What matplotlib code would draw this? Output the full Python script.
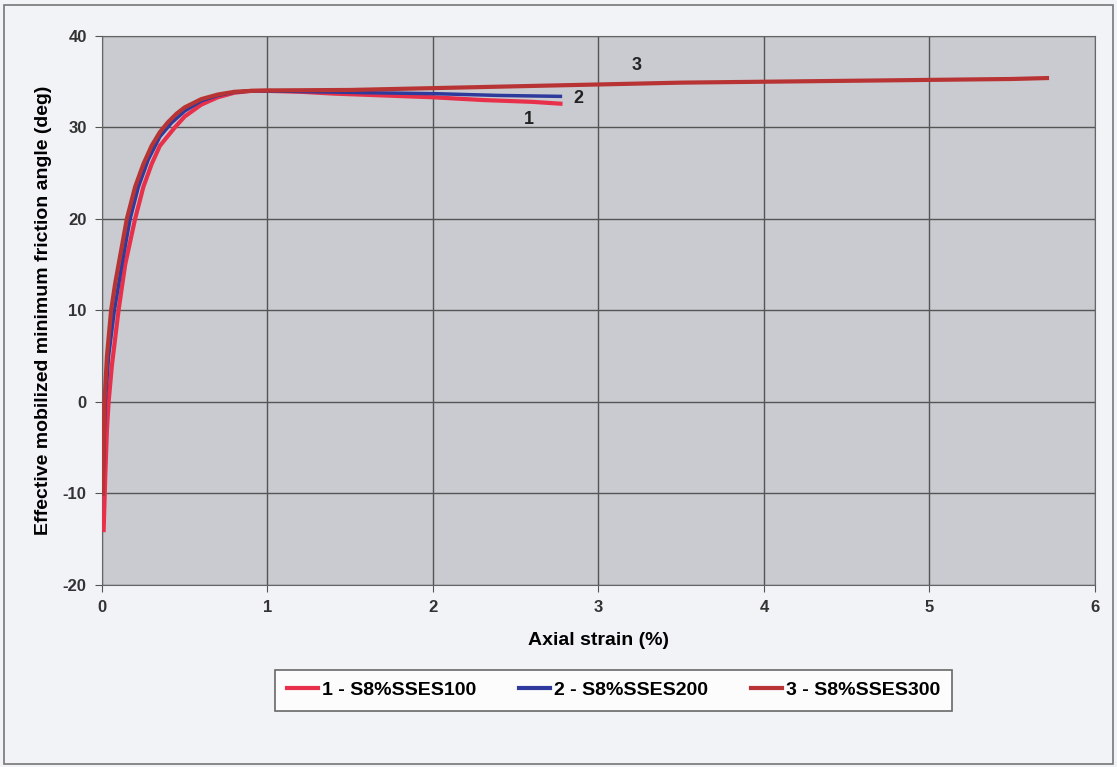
import matplotlib.pyplot as plt
from matplotlib.patches import Rectangle

plt.rcParams['font.family'] = ['Liberation Sans', 'DejaVu Sans']
plt.rcParams['axes.unicode_minus'] = False

# Data
strain_1 = [0.01, 0.02, 0.03, 0.04, 0.06, 0.1, 0.14, 0.2, 0.25, 0.3, 0.35, 0.44, 0.5, 0.6, 0.7, 0.8, 0.9, 1.0,
            1.2, 1.4, 1.7, 2.0, 2.3, 2.6, 2.77]
phi_1 = [-14, -8, -3, 0, 4, 10, 15, 20, 23.5, 26, 28, 30, 31.2, 32.5, 33.3, 33.8, 34.0, 34.0,
         33.9, 33.7, 33.5, 33.3, 33.0, 32.8, 32.6]

strain_2 = [0.005, 0.012, 0.02, 0.04, 0.075, 0.12, 0.17, 0.22, 0.28, 0.35, 0.42, 0.5, 0.6, 0.7, 0.8, 0.9, 1.0,
            1.3, 1.6, 2.0, 2.4, 2.77]
phi_2 = [-10, -5, 0, 5, 10, 15, 20, 23.5, 26.5, 29, 30.5, 31.8, 32.9, 33.5, 33.85, 34.0, 34.0,
         33.9, 33.8, 33.7, 33.5, 33.4]

strain_3 = [0.005, 0.01, 0.015, 0.03, 0.055, 0.08, 0.11, 0.15, 0.2, 0.25, 0.3, 0.35, 0.4, 0.45, 0.5, 0.6, 0.7,
            0.8, 0.9, 1.0, 1.5, 2.0, 2.5, 3.0, 3.5, 4.0, 4.5, 5.0, 5.5, 5.71]
phi_3 = [-10, -5, 0, 5, 10, 13, 16, 20, 23.5, 26, 28, 29.5, 30.6, 31.5, 32.2, 33.1, 33.6,
         33.9, 34.0, 34.05, 34.1, 34.3, 34.5, 34.7, 34.9, 35.0, 35.1, 35.2, 35.3, 35.4]

labels = ['1 - S8%SSES100', '2 - S8%SSES200', '3 - S8%SSES300']
colors = ['#e8304a', '#2e3a9c', '#b83434']

fig = plt.figure(figsize=(11.17, 7.67), dpi=100, facecolor='#f2f3f7')
ax = fig.add_axes([0.0913, 0.2373, 0.8890, 0.7158])
ax.set_facecolor('#c9cbd0')

ax.plot(strain_1, phi_1, color=colors[0], lw=3, label=labels[0], zorder=3)
ax.plot(strain_2, phi_2, color=colors[1], lw=2.5, label=labels[1], zorder=4)
ax.plot(strain_3, phi_3, color=colors[2], lw=3, label=labels[2], zorder=5)

# curve numbers
ax.text(2.58, 30.9, '1', fontsize=13, fontweight='bold', ha='center', va='center', color='#222222')
ax.text(2.88, 33.2, '2', fontsize=13, fontweight='bold', ha='center', va='center', color='#222222')
ax.text(3.23, 36.8, '3', fontsize=13, fontweight='bold', ha='center', va='center', color='#222222')

ax.set_xlim(0, 6)
ax.set_ylim(-20, 40)
ax.set_xticks(range(0, 7))
ax.set_yticks(range(-20, 41, 10))
ax.grid(True, color='#555555', lw=1)
ax.set_axisbelow(True)
for s in ax.spines.values():
    s.set_color('#666666')
ax.tick_params(labelsize=12, length=5, color='#555555', pad=6, labelcolor='#333333')
for lab in ax.get_xticklabels() + ax.get_yticklabels():
    lab.set_fontweight('bold')

ax.set_xlabel('Axial strain (%)', fontsize=14, fontweight='bold', labelpad=12)
ax.set_ylabel('Effective mobilized minimum friction angle (deg)', fontsize=14, fontweight='bold', labelpad=8)

leg = ax.legend(loc='center', bbox_to_anchor=(0.515, -0.192), ncol=3, fontsize=14,
                frameon=True, fancybox=False, edgecolor='#444444', handlelength=1.6,
                handletextpad=0.2, columnspacing=2.2, borderpad=0.6)
leg.get_frame().set_linewidth(1.2)
for t in leg.get_texts():
    t.set_fontweight('bold')
for h in leg.get_lines():
    h.set_linewidth(3)

# outer border of the chart
fig.patches.append(Rectangle((0.004, 0.004), 0.992, 0.99, transform=fig.transFigure,
                             fill=False, edgecolor='#777777', lw=1.2))

fig.savefig('out.png', dpi=100, facecolor=fig.get_facecolor())
